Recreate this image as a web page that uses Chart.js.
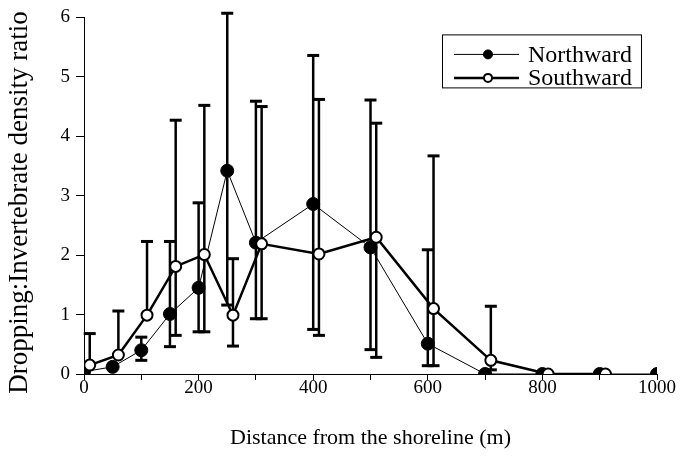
<!DOCTYPE html>
<html>
<head>
<meta charset="utf-8">
<script src="https://cdn.jsdelivr.net/npm/chart.js@4.4.0/dist/chart.umd.min.js"></script>
<style>
  html, body { margin: 0; padding: 0; background: #ffffff; }
  #wrap { width: 683px; height: 465px; }
</style>
</head>
<body>
<div id="wrap"><canvas id="c"></canvas></div>
<script>
// Distance from the shoreline (m) and dropping:invertebrate density ratio
const northX    = [0, 50, 100, 150, 200, 250, 300, 400, 500, 600, 700, 800, 900, 1000];
const northY    = [0.04, 0.12, 0.40, 1.01, 1.45, 3.42, 2.21, 2.86, 2.13, 0.51, 0, 0, 0, 0];
const northLow  = [null, null, 0.23, 0.46, 0.71, 1.16, 0.93, 0.75, 0.41, 0.14, null, null, null, null];
const northHigh = [null, null, 0.62, 2.23, 2.88, 6.07, 4.59, 5.36, 4.61, 2.09, null, null, null, null];

const southX    = [10, 60, 110, 160, 210, 260, 310, 410, 510, 610, 710, 810, 910];
const southY    = [0.15, 0.32, 0.99, 1.81, 2.01, 0.99, 2.19, 2.02, 2.30, 1.10, 0.23, 0, 0];
const southLow  = [null, null, null, 0.65, 0.71, 0.47, 0.93, 0.65, 0.28, 0.14, 0.07, null, null];
const southHigh = [0.68, 1.06, 2.23, 4.27, 4.52, 1.94, 4.50, 4.62, 4.22, 3.67, 1.14, null, null];

const seriesNames = ['Northward', 'Southward'];
const xTitle = 'Distance from the shoreline (m)';
const yTitle = 'Dropping:Invertebrate density ratio';

const SERIF = '"Liberation Serif", "Times New Roman", serif';

function toPoints(xs, ys) {
  return xs.map((x, i) => ({ x: x, y: ys[i] }));
}

// vertical error bars with flat caps, drawn under the markers
const errorBars = {
  id: 'errorBars',
  beforeDatasetsDraw(chart) {
    const { ctx } = chart;
    const xs = chart.scales.x, ys = chart.scales.y;
    chart.data.datasets.forEach((ds) => {
      ds.errLow.forEach((lo, i) => {
        const hi = ds.errHigh[i];
        const v = ds.data[i].y;
        if (hi == null && lo == null) return;
        const px = xs.getPixelForValue(ds.data[i].x);
        const top = ys.getPixelForValue(hi != null ? hi : v);
        const bot = ys.getPixelForValue(lo != null ? lo : v);
        ctx.save();
        ctx.strokeStyle = '#000';
        ctx.lineWidth = 2.5;
        ctx.beginPath();
        ctx.moveTo(px, bot);
        ctx.lineTo(px, top);
        ctx.stroke();
        ctx.lineWidth = 3;
        const cw = 6;
        if (hi != null) {
          ctx.beginPath(); ctx.moveTo(px - cw, top); ctx.lineTo(px + cw, top); ctx.stroke();
        }
        if (lo != null) {
          ctx.beginPath(); ctx.moveTo(px - cw, bot); ctx.lineTo(px + cw, bot); ctx.stroke();
        }
        ctx.restore();
      });
    });
  }
};

// boxed legend in the upper right of the plot
const boxLegend = {
  id: 'boxLegend',
  afterDraw(chart) {
    const { ctx, chartArea } = chart;
    const x0 = chartArea.right - 215, y0 = chartArea.top + 17, w = 199, h = 53;
    ctx.save();
    ctx.strokeStyle = '#000';
    ctx.lineWidth = 1;
    ctx.strokeRect(x0 + 0.5, y0 + 0.5, w, h);
    chart.data.datasets.forEach((ds, i) => {
      const cy = y0 + 20 + i * 23.5;
      ctx.strokeStyle = '#000';
      ctx.lineWidth = ds.borderWidth;
      ctx.beginPath();
      ctx.moveTo(x0 + 12, cy);
      ctx.lineTo(x0 + 77, cy);
      ctx.stroke();
      ctx.beginPath();
      ctx.arc(x0 + 46, cy, i === 0 ? 4.5 : 4, 0, Math.PI * 2);
      ctx.fillStyle = ds.pointBackgroundColor;
      ctx.fill();
      ctx.lineWidth = i === 0 ? 1 : 2;
      ctx.stroke();
      ctx.fillStyle = '#000';
      ctx.font = '24px ' + SERIF;
      ctx.textBaseline = 'middle';
      ctx.textAlign = 'left';
      ctx.fillText(ds.label, x0 + 86, cy + 1);
    });
    ctx.restore();
  }
};

new Chart(document.getElementById('c'), {
  type: 'scatter',
  data: {
    datasets: [
      {
        label: seriesNames[0],
        data: toPoints(northX, northY),
        errLow: northLow,
        errHigh: northHigh,
        showLine: true,
        borderColor: '#000',
        borderWidth: 1,
        pointRadius: 6.5,
        pointBackgroundColor: '#000',
        pointBorderColor: '#000',
        pointBorderWidth: 1,
        order: 2
      },
      {
        label: seriesNames[1],
        data: toPoints(southX, southY),
        errLow: southLow,
        errHigh: southHigh,
        showLine: true,
        borderColor: '#000',
        borderWidth: 2.5,
        pointRadius: 5.5,
        pointBackgroundColor: '#fff',
        pointBorderColor: '#000',
        pointBorderWidth: 2,
        order: 1
      }
    ]
  },
  options: {
    responsive: true,
    maintainAspectRatio: false,
    animation: false,
    events: [],
    layout: { padding: { top: 16, right: 26, left: 0, bottom: 0 } },
    plugins: {
      legend: { display: false },
      tooltip: { enabled: false }
    },
    scales: {
      x: {
        type: 'linear',
        min: 0,
        max: 1000,
        ticks: {
          stepSize: 100,
          color: '#000',
          font: { family: SERIF, size: 19 },
          padding: -3,
          maxRotation: 0,
          autoSkip: false,
          callback: (v) => (v % 200 === 0 ? String(v) : '')
        },
        grid: { drawOnChartArea: false, drawTicks: true, tickLength: 6, color: '#000' },
        border: { display: true, color: '#000', width: 1 },
        title: {
          display: true,
          text: xTitle,
          color: '#000',
          font: { family: SERIF, size: 22, lineHeight: 1.2 },
          padding: { top: 0, bottom: 14 }
        },
        afterFit: (s) => { s.height = 91; }
      },
      y: {
        type: 'linear',
        min: 0,
        max: 6,
        ticks: {
          stepSize: 1,
          color: '#000',
          font: { family: SERIF, size: 19 },
          padding: 6
        },
        grid: { drawOnChartArea: false, drawTicks: true, tickLength: 8, color: '#000' },
        border: { display: true, color: '#000', width: 1 },
        title: {
          display: true,
          text: yTitle + '  ',
          color: '#000',
          font: { family: SERIF, size: 27, lineHeight: 1.2 },
          padding: { top: 4, bottom: 0 }
        },
        afterFit: (s) => { s.width = 84; }
      }
    }
  },
  plugins: [errorBars, boxLegend]
});
</script>
</body>
</html>
